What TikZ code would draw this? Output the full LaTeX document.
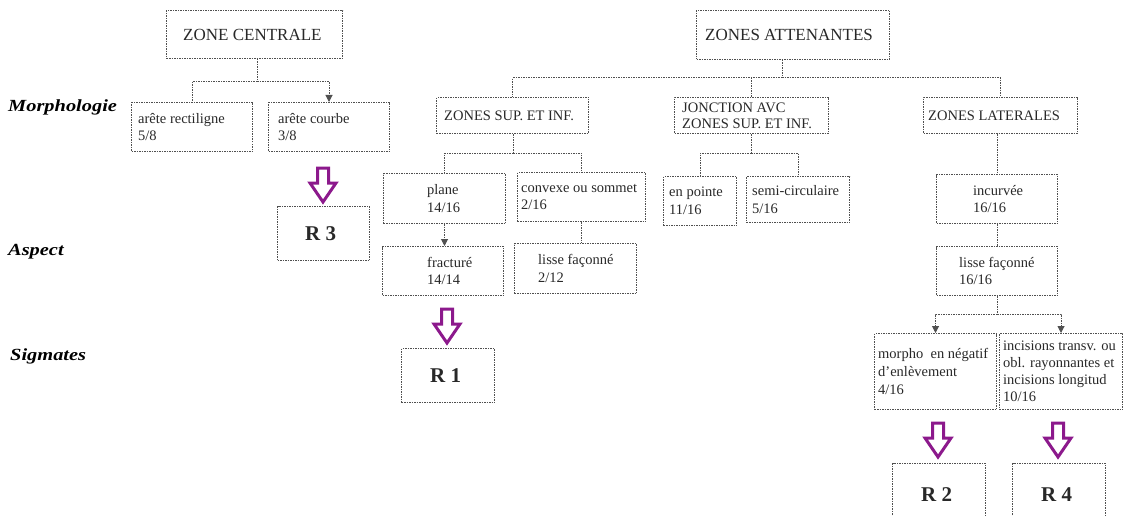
\documentclass[tikz,border=0pt]{standalone}
\usepackage{fontspec}
\setmainfont{Liberation Serif}
\usetikzlibrary{arrows.meta}
\definecolor{bord}{RGB}{80,80,80}
\definecolor{purp}{RGB}{140,25,140}
\definecolor{txtc}{RGB}{40,40,40}
\tikzset{
  bxs/.style={draw=bord, line width=1pt, dash pattern=on 1.5pt off 1pt, inner sep=0pt},
  txt/.style={inner sep=0pt, align=left, text=txtc, font=\fontsize{14.5}{17.5}\selectfont},
  big/.style={font=\fontsize{17}{20}\selectfont},
  rr/.style={font=\fontsize{21}{24}\selectfont\bfseries},
  conn/.style={draw=bord, line width=1pt, dash pattern=on 1.5pt off 1pt},
  tip/.style={-{Triangle[width=7pt,length=7pt]}},
  lab/.style={inner sep=0pt, anchor=west, text=black, font=\fontsize{17}{19}\selectfont\bfseries\itshape},
  parr/.style={draw=purp, line width=3pt, fill=white, line join=miter}
}
% #1 text style, #2 name, #3 left, #4 top, #5 right, #6 bottom, #7 indent, #8 text
\newcommand{\bx}[8][]{%
  \node[bxs, anchor=north west, minimum width={#5-#3}, minimum height={#6-#4}] (#2) at (#3,#4) {};
  \node[txt,#1, anchor=west] (#2t) at ([xshift=#7]#2.west) {#8};
}
\newcommand{\purarrow}[3]{%
  \draw[parr] (#1-5.5,#2) -- (#1+5.5,#2) -- (#1+5.5,#2+15) -- (#1+13,#2+15) -- (#1,#3) -- (#1-13,#2+15) -- (#1-5.5,#2+15) -- cycle;
}
\begin{document}
\begin{tikzpicture}[x=1pt,y=-1pt]
\useasboundingbox (0,0) rectangle (1123,516);
\clip (0,0) rectangle (1123,516);

% row labels
\node[lab] (morph) at (8,107) {\scalebox{1.2}[1]{Morphologie}};
\node[lab] (aspect) at (8,252) {\scalebox{1.2}[1]{Aspect}};
\node[lab] (sigm) at (10,356) {\scalebox{1.2}[1]{Sigmates}};

% top boxes
\bx[big]{zc}{166}{10}{342}{58}{17}{ZONE CENTRALE}
\bx[big]{za}{696}{10}{889}{59}{9}{ZONES ATTENANTES}

% morphologie
\bx{ar}{131}{102}{252}{151}{7}{arête rectiligne\\5/8}
\bx{ac}{268}{102}{389}{151}{10}{arête courbe\\3/8}
\bx{zs}{436}{97}{588}{133}{8}{ZONES SUP. ET INF.}
\bx[font=\fontsize{14.5}{16}\selectfont]{jo}{674}{97}{828}{133}{8}{JONCTION AVC\\ZONES SUP. ET INF.}
\bx{zl}{923}{97}{1077}{133}{5}{ZONES LATERALES}

\bx{pl}{383}{173}{505}{223}{44}{plane\\14/16}
\bx{cv}{517}{172}{645}{221}{4}{convexe ou sommet\\2/16}
\bx{ep}{663}{176}{736}{225}{6}{en pointe\\11/16}
\bx{sc}{746}{176}{849}{222}{6}{semi-circulaire\\5/16}
\bx{in}{936}{174}{1057}{223}{37}{incurvée\\16/16}

% aspect
\bx{fr}{382}{246}{503}{295}{45}{fracturé\\14/14}
\bx{lf}{514}{243}{636}{293}{24}{lisse façonné\\2/12}
\bx{lfb}{936}{246}{1057}{295}{23}{lisse façonné\\16/16}

% sigmates
\bx[font=\fontsize{14.5}{18}\selectfont]{mn}{874}{333}{996}{409}{4}{morpho\ \ en négatif\\d'enlèvement\\4/16}
\bx[font=\fontsize{14.5}{17}\selectfont]{is}{999}{333}{1122}{409}{4}{incisions transv. ou\\obl. rayonnantes et\\incisions longitud\\10/16}

% results
\bx[rr]{rt}{277}{206}{369}{260}{28}{R 3}
\bx[rr]{ro}{401}{348}{494}{402}{29}{R 1}
\bx[rr]{rw}{892}{463}{985}{525}{29}{R 2}
\bx[rr]{rf}{1012}{463}{1105}{525}{29}{R 4}

% connectors
\coordinate (zcj) at (257,82);
\draw[conn] (zcj |- zc.south) -- (zcj);
\draw[conn] (zcj) -| (ar.north);
\draw[conn,tip] (zcj) -| (ac.north);

\coordinate (zaj) at (782,78);
\draw[conn] (zaj |- za.south) -- (zaj);
\draw[conn] (zaj) -| (zs.north);
\draw[conn] (zaj) -| (zl.north);
\draw[conn] (jo.north |- zaj) -- (jo.north);

\coordinate (zsj) at (513,153);
\draw[conn] (zsj |- zs.south) -- (zsj);
\draw[conn] (zsj) -| (pl.north);
\draw[conn] (zsj) -| (cv.north);

\coordinate (joj) at (751,153);
\draw[conn] (joj |- jo.south) -- (joj);
\draw[conn] (joj) -| (ep.north);
\draw[conn] (joj) -| (sc.north);

\draw[conn] (in.north |- zl.south) -- (in.north);
\draw[conn] (in.south) -- (in.south |- lfb.north);
\draw[conn,tip] (pl.south) -- (pl.south |- fr.north);
\draw[conn] (cv.south) -- (cv.south |- lf.north);

\coordinate (lfj) at (997,314);
\draw[conn] (lfj |- lfb.south) -- (lfj);
\draw[conn,tip] (lfj) -| (mn.north);
\draw[conn,tip] (lfj) -| (is.north);

% purple hollow arrows
\purarrow{323}{168}{202}
\purarrow{447}{309}{343}
\purarrow{938}{423}{457}
\purarrow{1058}{423}{457}
\end{tikzpicture}
\end{document}
